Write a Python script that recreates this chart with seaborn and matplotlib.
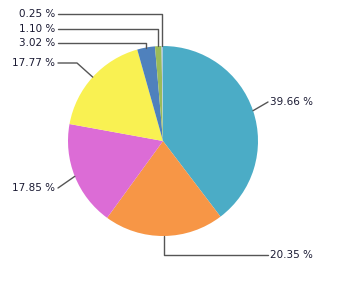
import numpy as np
import matplotlib
matplotlib.use("Agg")
import matplotlib.pyplot as plt
import seaborn as sns

sns.set_style("white")
plt.rcParams['font.family'] = ['DejaVu Sans']

labels = ["39.66 %", "20.35 %", "17.85 %", "17.77 %", "3.02 %", "1.10 %", "0.25 %"]
values = [39.66, 20.35, 17.85, 17.77, 3.02, 1.10, 0.25]
colors = ["#4BACC6", "#F79646", "#DC6CD6", "#F9F152", "#4F81BD", "#9BBB59", "#A9C8E2"]

W, H = 346, 291
fig = plt.figure(figsize=(W / 100, H / 100), dpi=100)
ax = fig.add_axes([0, 0, 1, 1])
ax.set_xlim(0, W)
ax.set_ylim(0, H)
ax.set_aspect("equal")
ax.axis("off")

cx, cy, R = 163, 150, 95
wedges, _ = ax.pie(values, colors=colors, startangle=90, counterclock=False,
                   center=(cx, cy), radius=R, frame=True,
                   wedgeprops=dict(linewidth=0))
ax.set_xlim(0, W)
ax.set_ylim(0, H)
ax.axis("off")

def edge(w):
    ang = np.deg2rad((w.theta1 + w.theta2) / 2)
    return cx + R * np.cos(ang), cy + R * np.sin(ang)

lc = "#555555"
tc = "#1a1a33"
fs = 7.5

# right labels
x0, y0 = edge(wedges[0])
ax.plot([x0, 268], [y0, 189], color=lc, lw=1)
ax.text(270, 189, labels[0], ha="left", va="center", fontsize=fs, color=tc)

x1, y1 = edge(wedges[1])
ax.plot([x1, x1, 268], [y1, 36, 36], color=lc, lw=1)
ax.text(270, 36, labels[1], ha="left", va="center", fontsize=fs, color=tc)

# left labels
x2, y2 = edge(wedges[2])
ax.plot([x2, 58], [y2, 103], color=lc, lw=1)
ax.text(55, 103, labels[2], ha="right", va="center", fontsize=fs, color=tc)

x3, y3 = edge(wedges[3])
ax.plot([x3, 77, 58], [y3, 228, 228], color=lc, lw=1)
ax.text(55, 228, labels[3], ha="right", va="center", fontsize=fs, color=tc)

for i, ly in zip([4, 5, 6], [248, 262, 277]):
    xe, ye = edge(wedges[i])
    ax.plot([xe, xe, 58], [ye, ly, ly], color=lc, lw=1)
    ax.text(55, ly, labels[i], ha="right", va="center", fontsize=fs, color=tc)

fig.savefig("out.png", dpi=100)
